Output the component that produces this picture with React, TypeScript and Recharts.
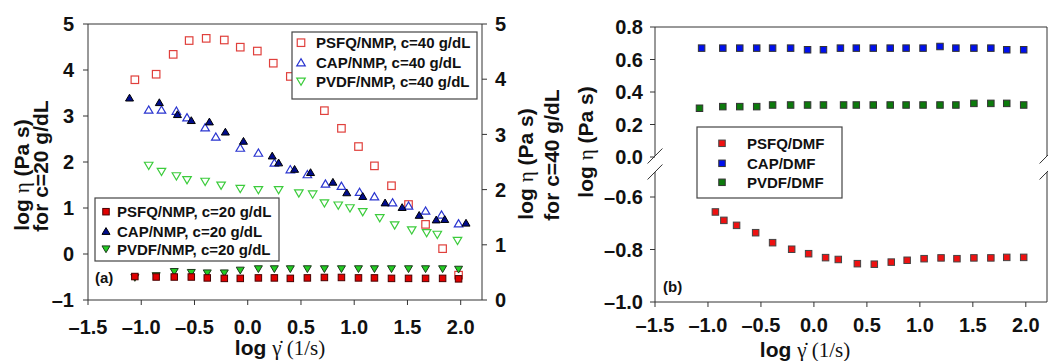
import React from "react";
import { ReferenceLine, Scatter, ScatterChart, XAxis, YAxis } from "recharts";

// ---- panel (a): c = 20 g/dL (left axis) ----
const xC20 = [-1.06, -0.86, -0.69, -0.53, -0.38, -0.22, -0.07, 0.1, 0.25, 0.4, 0.56, 0.72, 0.88, 1.04, 1.19, 1.35, 1.51, 1.67, 1.83, 1.98];
const psfq20 = [-0.49, -0.5, -0.5, -0.5, -0.52, -0.53, -0.53, -0.52, -0.52, -0.53, -0.52, -0.51, -0.51, -0.52, -0.52, -0.53, -0.53, -0.53, -0.53, -0.54];
const pvdf20 = [-0.52, -0.48, -0.39, -0.41, -0.42, -0.42, -0.36, -0.33, -0.33, -0.33, -0.33, -0.33, -0.33, -0.33, -0.33, -0.33, -0.33, -0.33, -0.33, -0.34];
const xCap20 = [-1.11, -0.83, -0.66, -0.53, -0.36, -0.21, -0.04, 0.23, 0.29, 0.44, 0.59, 0.8, 0.93, 1.08, 1.29, 1.45, 1.61, 1.77, 1.85, 2.05];
const cap20 = [3.4, 3.3, 3.04, 2.91, 2.88, 2.66, 2.46, 2.14, 1.99, 1.85, 1.78, 1.57, 1.34, 1.26, 1.12, 1.02, 0.85, 0.75, 0.76, 0.68];

// ---- panel (a): c = 40 g/dL (right axis) ----
const xPsfq40 = [-1.06, -0.86, -0.7, -0.55, -0.39, -0.22, -0.07, 0.09, 0.24, 0.4, 0.72, 0.88, 1.04, 1.19, 1.35, 1.51, 1.67, 1.83, 1.98];
const psfq40 = [3.99, 4.09, 4.45, 4.7, 4.74, 4.71, 4.58, 4.51, 4.29, 4.05, 3.43, 3.11, 2.78, 2.43, 2.07, 1.73, 1.37, 0.93, 0.45];
const xCap40 = [-0.93, -0.81, -0.67, -0.57, -0.4, -0.3, -0.07, 0.1, 0.25, 0.4, 0.56, 0.73, 0.88, 1.05, 1.19, 1.36, 1.51, 1.67, 1.82, 1.98];
const cap40 = [3.45, 3.45, 3.43, 3.31, 3.13, 2.96, 2.76, 2.67, 2.49, 2.37, 2.28, 2.11, 2.07, 1.96, 1.88, 1.77, 1.71, 1.62, 1.55, 1.39];
const xPvdf40 = [-0.93, -0.81, -0.67, -0.57, -0.4, -0.25, -0.07, 0.1, 0.29, 0.48, 0.61, 0.72, 0.85, 0.96, 1.08, 1.24, 1.38, 1.54, 1.68, 1.78, 1.97];
const pvdf40 = [2.43, 2.32, 2.24, 2.17, 2.14, 2.07, 2.01, 1.99, 1.99, 1.93, 1.91, 1.75, 1.71, 1.66, 1.59, 1.48, 1.35, 1.26, 1.21, 1.18, 1.07];

// ---- panel (b): DMF solutions ----
const xCapDmf = [-1.06, -0.86, -0.7, -0.54, -0.39, -0.22, -0.06, 0.09, 0.25, 0.4, 0.56, 0.72, 0.87, 1.03, 1.19, 1.34, 1.51, 1.67, 1.82, 1.98];
const capDmf = [0.67, 0.67, 0.67, 0.67, 0.67, 0.67, 0.66, 0.66, 0.67, 0.67, 0.67, 0.67, 0.67, 0.67, 0.68, 0.67, 0.67, 0.67, 0.66, 0.66];
const xPvdfDmf = [-1.08, -0.86, -0.7, -0.54, -0.39, -0.22, -0.06, 0.09, 0.28, 0.4, 0.56, 0.72, 0.87, 1.03, 1.19, 1.34, 1.51, 1.67, 1.82, 1.98];
const pvdfDmf = [0.3, 0.31, 0.31, 0.31, 0.32, 0.32, 0.32, 0.32, 0.32, 0.32, 0.32, 0.32, 0.32, 0.32, 0.32, 0.32, 0.33, 0.33, 0.33, 0.32];
const xPsfqDmf = [-0.93, -0.85, -0.73, -0.55, -0.39, -0.21, -0.05, 0.11, 0.23, 0.41, 0.57, 0.73, 0.88, 1.04, 1.2, 1.35, 1.51, 1.67, 1.82, 1.98];
const psfqDmf = [-0.657, -0.689, -0.708, -0.736, -0.774, -0.799, -0.816, -0.831, -0.838, -0.854, -0.856, -0.848, -0.841, -0.835, -0.832, -0.835, -0.832, -0.832, -0.83, -0.83];

const xTicks = [-1.5, -1.0, -0.5, 0.0, 0.5, 1.0, 1.5, 2.0];
const yTicksLeft = [-1, 0, 1, 2, 3, 4, 5];
const yTicksRight = [0, 1, 2, 3, 4, 5];
const yTicksB = [-1.0, -0.8, -0.6, 0.0, 0.2, 0.4, 0.6, 0.8];

// broken axis in (b): lower part -1.0..-0.5, upper part 0.0..0.8, stretched differently
const tB = (v: number) => (v >= -0.3 ? 145 + v * 162.5 : (v + 1) * 262.5);

const pts = (xs: number[], ys: number[], f = (v: number) => v) => xs.map((x, i) => ({ x, y: f(ys[i]) }));

type Mk = { kind: "sq" | "up" | "down"; fill: string; stroke: string; size: number; sw?: number };

function Marker({ cx, cy, m }: { cx: number; cy: number; m: Mk }) {
  const s = m.size;
  const h = s / 2;
  if (m.kind === "sq")
    return <rect x={cx - h} y={cy - h} width={s} height={s} fill={m.fill} stroke={m.stroke} strokeWidth={m.sw ?? 1} />;
  const th = s * 0.85;
  const p =
    m.kind === "up"
      ? `${cx},${cy - th / 2} ${cx - h},${cy + th / 2} ${cx + h},${cy + th / 2}`
      : `${cx},${cy + th / 2} ${cx - h},${cy - th / 2} ${cx + h},${cy - th / 2}`;
  return <polygon points={p} fill={m.fill} stroke={m.stroke} strokeWidth={m.sw ?? 1} />;
}
const shape = (m: Mk) => (p: any) => <Marker cx={p.cx} cy={p.cy} m={m} />;

const mPsfq40: Mk = { kind: "sq", fill: "#fff", stroke: "#e0403c", size: 7.5, sw: 1.2 };
const mCap40: Mk = { kind: "up", fill: "#fff", stroke: "#2a35d0", size: 8.5, sw: 1.2 };
const mPvdf40: Mk = { kind: "down", fill: "#fff", stroke: "#3ccc3c", size: 8.5, sw: 1.2 };
const mPsfq20: Mk = { kind: "sq", fill: "#e00000", stroke: "#4a0000", size: 6.5 };
const mCap20: Mk = { kind: "up", fill: "#000c8c", stroke: "#000", size: 8 };
const mPvdf20: Mk = { kind: "down", fill: "#22cc22", stroke: "#1c3a1c", size: 8 };
const mPsfqDmf: Mk = { kind: "sq", fill: "#ee1111", stroke: "#444", size: 6.5 };
const mCapDmf: Mk = { kind: "sq", fill: "#0010ee", stroke: "#333", size: 6.5 };
const mPvdfDmf: Mk = { kind: "sq", fill: "#0c7a0c", stroke: "#333", size: 6.5 };

const SANS = "'Liberation Sans', Arial, sans-serif";
const SERIF = "'Liberation Serif', 'Times New Roman', serif";
const AX = "#333";
const tickStyle = { fill: "#111", fontSize: 20, fontWeight: 700, fontFamily: SANS };
const dash = (v: number, d: number) => v.toFixed(d).replace("-", "\u2013");

function Legend({ x, y, w, h, tx, mx, rows }: { x: number; y: number; w: number; h: number; tx: number; mx: number; rows: [number, Mk, string][] }) {
  return (
    <g>
      <rect x={x} y={y} width={w} height={h} fill="#fff" stroke="#444" strokeWidth={1.2} />
      {rows.map(([ry, m, label]) => (
        <g key={label}>
          <Marker cx={mx} cy={ry} m={m} />
          <text x={tx} y={ry + 5.5} fontSize={15} fontWeight={700} fontFamily={SANS} fill="#111">
            {label}
          </text>
        </g>
      ))}
    </g>
  );
}

function YTitle({ x, y, text }: { x: number; y: number; text?: string }) {
  return (
    <text transform={`translate(${x},${y}) rotate(-90)`} textAnchor="middle" fontSize={21} fontWeight={700} fontFamily={SANS} fill="#111">
      {text ?? (
        <>
          log <tspan fontFamily={SERIF} fontWeight={400}>η</tspan> (Pa s)
        </>
      )}
    </text>
  );
}

function XTitle({ x, y }: { x: number; y: number }) {
  return (
    <text x={x} y={y} textAnchor="middle" fontSize={21} fontWeight={700} fontFamily={SANS} fill="#111">
      log <tspan fontFamily={SERIF} fontWeight={400}>γ̇ (1/s)</tspan>
    </text>
  );
}

export default function App() {
  return (
    <div style={{ position: "absolute", left: 0, top: 0, width: 1048, height: 361, background: "#fff", overflow: "hidden" }}>
      <div style={{ position: "absolute", left: 0, top: 0 }}>
        <ScatterChart width={600} height={361} margin={{ top: 24, right: 0, left: 0, bottom: 0 }}>
          <XAxis type="number" dataKey="x" domain={[-1.5, 2.2]} ticks={xTicks} tickFormatter={(v) => dash(v, 1)} height={61}
            tick={tickStyle} tickSize={5} tickMargin={15} stroke={AX} allowDataOverflow />
          <YAxis yAxisId="l" type="number" dataKey="y" domain={[-1, 5]} ticks={yTicksLeft} tickFormatter={(v) => dash(v, 0)} width={88}
            tick={tickStyle} tickSize={5} tickMargin={9} stroke={AX} />
          <YAxis yAxisId="r" orientation="right" type="number" dataKey="y" domain={[0, 5]} ticks={yTicksRight} width={118}
            tick={tickStyle} tickSize={5} tickMargin={8} stroke={AX} />
          <ReferenceLine yAxisId="l" y={5} stroke={AX} />
          <Scatter yAxisId="r" name="PSFQ/NMP, c=40 g/dL" data={pts(xPsfq40, psfq40)} shape={shape(mPsfq40)} isAnimationActive={false} />
          <Scatter yAxisId="r" name="CAP/NMP, c=40 g/dL" data={pts(xCap40, cap40)} shape={shape(mCap40)} isAnimationActive={false} />
          <Scatter yAxisId="r" name="PVDF/NMP, c=40 g/dL" data={pts(xPvdf40, pvdf40)} shape={shape(mPvdf40)} isAnimationActive={false} />
          <Scatter yAxisId="l" name="PVDF/NMP, c=20 g/dL" data={pts(xC20, pvdf20)} shape={shape(mPvdf20)} isAnimationActive={false} />
          <Scatter yAxisId="l" name="PSFQ/NMP, c=20 g/dL" data={pts(xC20, psfq20)} shape={shape(mPsfq20)} isAnimationActive={false} />
          <Scatter yAxisId="l" name="CAP/NMP, c=20 g/dL" data={pts(xCap20, cap20)} shape={shape(mCap20)} isAnimationActive={false} />
        </ScatterChart>
      </div>

      <div style={{ position: "absolute", left: 600, top: 0 }}>
        <ScatterChart width={448} height={361} margin={{ top: 27, right: 1, left: 0, bottom: 0 }}>
          <XAxis type="number" dataKey="x" domain={[-1.5, 2.2]} ticks={xTicks} tickFormatter={(v) => dash(v, 1)} height={59}
            tick={tickStyle} tickSize={5} tickMargin={11} stroke={AX} allowDataOverflow />
          <YAxis type="number" dataKey="y" domain={[0, 275]} ticks={yTicksB.map(tB)} width={55} axisLine={false}
            tickFormatter={(t) => dash(yTicksB[yTicksB.map(tB).findIndex((u) => Math.abs(u - t) < 0.01)] ?? 0, 1)}
            tick={tickStyle} tickSize={5} tickMargin={7} stroke={AX} />
          <ReferenceLine y={275} stroke={AX} />
          <ReferenceLine segment={[{ x: -1.5, y: 0 }, { x: -1.5, y: 130 }]} stroke={AX} ifOverflow="visible" />
          <ReferenceLine segment={[{ x: -1.5, y: 146 }, { x: -1.5, y: 275 }]} stroke={AX} ifOverflow="visible" />
          <ReferenceLine segment={[{ x: 2.2, y: 0 }, { x: 2.2, y: 130 }]} stroke={AX} ifOverflow="visible" />
          <ReferenceLine segment={[{ x: 2.2, y: 146 }, { x: 2.2, y: 275 }]} stroke={AX} ifOverflow="visible" />
          <ReferenceLine segment={[{ x: -1.57, y: 138.5 }, { x: -1.43, y: 153.5 }]} stroke={AX} ifOverflow="visible" />
          <ReferenceLine segment={[{ x: -1.57, y: 122.5 }, { x: -1.43, y: 137.5 }]} stroke={AX} ifOverflow="visible" />
          <ReferenceLine segment={[{ x: 2.13, y: 138.5 }, { x: 2.27, y: 153.5 }]} stroke={AX} ifOverflow="visible" />
          <ReferenceLine segment={[{ x: 2.13, y: 122.5 }, { x: 2.27, y: 137.5 }]} stroke={AX} ifOverflow="visible" />
          <Scatter name="CAP/DMF" data={pts(xCapDmf, capDmf, tB)} shape={shape(mCapDmf)} isAnimationActive={false} />
          <Scatter name="PVDF/DMF" data={pts(xPvdfDmf, pvdfDmf, tB)} shape={shape(mPvdfDmf)} isAnimationActive={false} />
          <Scatter name="PSFQ/DMF" data={pts(xPsfqDmf, psfqDmf, tB)} shape={shape(mPsfqDmf)} isAnimationActive={false} />
        </ScatterChart>
      </div>

      <svg width={1048} height={361} style={{ position: "absolute", left: 0, top: 0, pointerEvents: "none" }}>
        <YTitle x={29} y={175} />
        <YTitle x={48} y={166} text="for c=20 g/dL" />
        <YTitle x={533} y={164} />
        <YTitle x={559} y={155} text="for c=40 g/dL" />
        <YTitle x={593} y={142} />
        <XTitle x={280} y={355} />
        <XTitle x={805} y={357} />
        <text x={95} y={283} fontSize={15} fontWeight={700} fontFamily={SANS} fill="#111">(a)</text>
        <text x={663} y={292} fontSize={15} fontWeight={700} fontFamily={SANS} fill="#111">(b)</text>
        <Legend x={292} y={32} w={185} h={67} mx={301} tx={316}
          rows={[[42.7, mPsfq40, "PSFQ/NMP, c=40 g/dL"], [62.3, mCap40, "CAP/NMP, c=40 g/dL"], [81.7, mPvdf40, "PVDF/NMP, c=40 g/dL"]]} />
        <Legend x={95} y={198} w={184} h={63} mx={106} tx={117}
          rows={[[211.7, mPsfq20, "PSFQ/NMP, c=20 g/dL"], [231, mCap20, "CAP/NMP, c=20 g/dL"], [249.3, mPvdf20, "PVDF/NMP, c=20 g/dL"]]} />
        <Legend x={697} y={127} w={145} h={71} mx={722} tx={747}
          rows={[[143.3, mPsfqDmf, "PSFQ/DMF"], [163.3, mCapDmf, "CAP/DMF"], [182.3, mPvdfDmf, "PVDF/DMF"]]} />
      </svg>
    </div>
  );
}
